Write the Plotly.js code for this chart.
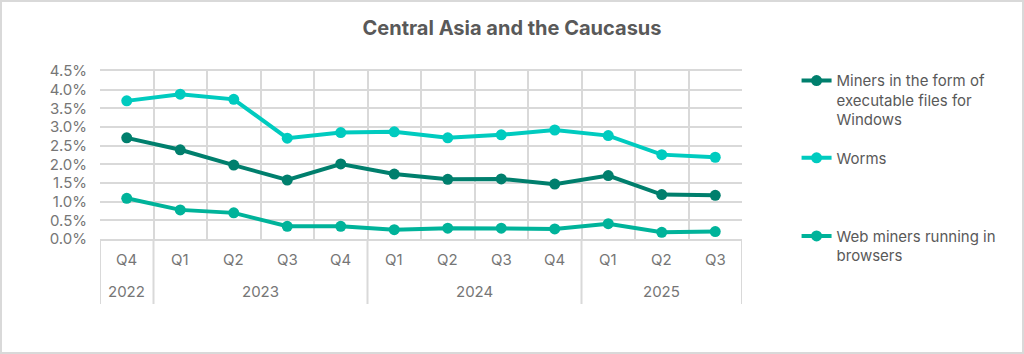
<!DOCTYPE html>
<html><head><meta charset="utf-8">
<script src="https://cdn.plot.ly/plotly-3.0.1.min.js"></script>
<style>
html,body{margin:0;padding:0;background:#fff;}
#wrap{width:1024px;height:354px;box-sizing:border-box;border:2px solid #d9d9d9;}
#chart{width:1020px;height:350px;}
</style></head>
<body><div id="wrap"><div id="chart"></div></div>
<script>
const quarters = ['Q4','Q1','Q2','Q3','Q4','Q1','Q2','Q3','Q4','Q1','Q2','Q3'];
const years    = ['2022','2023','2023','2023','2023','2024','2024','2024','2024','2025','2025','2025'];
const minersExe = [2.71, 2.39, 1.98, 1.58, 2.01, 1.74, 1.60, 1.61, 1.47, 1.70, 1.19, 1.17];
const worms     = [3.70, 3.88, 3.74, 2.70, 2.85, 2.87, 2.71, 2.79, 2.92, 2.77, 2.26, 2.19];
const webMiners = [1.09, 0.78, 0.70, 0.34, 0.34, 0.25, 0.29, 0.29, 0.27, 0.41, 0.18, 0.20];
const seriesNames = ['Miners in the form of<br>executable files for<br>Windows', 'Worms', 'Web miners running in<br>browsers'];
const title = 'Central Asia and the Caucasus';

const FONT = 'Inter, "DejaVu Sans", sans-serif';
const GRID = '#d9d9d9';
const TXT = '#767676';
const idx = quarters.map((_, i) => i);

function tr(y, name, color, leg) {
  return {x: idx, y: y, name: name, type: 'scatter', mode: 'lines+markers',
    line: {color: color, width: 4}, marker: {color: color, size: 11},
    legend: leg, hoverinfo: 'skip'};
}
const data = [
  tr(minersExe, seriesNames[0], '#007f6d', 'legend'),
  tr(worms, seriesNames[1], '#00cbbf', 'legend2'),
  tr(webMiners, seriesNames[2], '#00b39a', 'legend3')
];

// year groups
const groups = [];
years.forEach((y, i) => {
  if (!groups.length || groups[groups.length-1].y !== y) groups.push({y: y, s: i, e: i});
  else groups[groups.length-1].e = i;
});

const annotations = [];
quarters.forEach((q, i) => annotations.push({x: i, y: 0, xref: 'x', yref: 'paper', text: q, showarrow: false,
  yshift: -20, yanchor: 'middle', font: {family: FONT, size: 15, color: TXT}}));
groups.forEach(g => annotations.push({x: (g.s + g.e) / 2, y: 0, xref: 'x', yref: 'paper', text: g.y, showarrow: false,
  yshift: -52, yanchor: 'middle', font: {family: FONT, size: 15, color: TXT}}));

const plotH = 350 - 69 - 113;
const shapes = [];
const bounds = [groups[0].s - 0.5].concat(groups.map(g => g.e + 0.5));
bounds.forEach(b => shapes.push({type: 'line', xref: 'x', yref: 'paper', x0: b, x1: b, y0: 0, y1: -65 / plotH,
  line: {color: GRID, width: 2}}));

const gridVals = [];
for (let i = -0.5; i <= quarters.length - 0.5; i += 1) gridVals.push(i);

const legBase = {xanchor: 'left', yanchor: 'top', valign: 'top', bgcolor: 'rgba(0,0,0,0)',
  font: {family: FONT, size: 15, color: '#595959'}, itemwidth: 30};

const layout = {
  width: 1020, height: 350,
  margin: {l: 98, r: 280, t: 69, b: 113},
  paper_bgcolor: '#fff', plot_bgcolor: '#fff',
  title: {text: '<b>' + title + '</b>', x: 0.5, xref: 'container', xanchor: 'center', y: 0.926, yanchor: 'middle',
    font: {family: FONT, size: 20, color: '#595959'}},
  xaxis: {range: [-0.5, quarters.length - 0.5], tickvals: gridVals, ticktext: gridVals.map(() => ''),
    showgrid: true, gridcolor: GRID, gridwidth: 2, zeroline: false, showline: true, linecolor: GRID, linewidth: 2,
    mirror: true, ticks: '', fixedrange: true},
  yaxis: {range: [0, 4.5], dtick: 0.5, tick0: 0, tickformat: '.1f', ticksuffix: '%', showgrid: true,
    gridcolor: GRID, gridwidth: 2, zeroline: false, showline: false, ticks: '', ticklabelstandoff: 12,
    tickfont: {family: FONT, size: 15, color: TXT}, fixedrange: true},
  showlegend: true,
  legend: Object.assign({x: 1.085, y: 1.04}, legBase),
  legend2: Object.assign({x: 1.085, y: 0.58}, legBase),
  legend3: Object.assign({x: 1.085, y: 0.115}, legBase),
  annotations: annotations,
  shapes: shapes
};
Plotly.newPlot('chart', data, layout, {displayModeBar: false, staticPlot: true});
</script></body></html>
